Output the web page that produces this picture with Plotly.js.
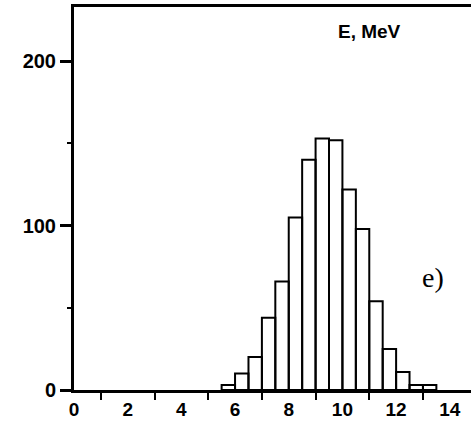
<!DOCTYPE html>
<html>
<head>
<meta charset="utf-8">
<script src="https://cdn.plot.ly/plotly-3.0.1.min.js"></script>
<style>html,body{margin:0;padding:0;background:#fff;}#chart{width:471px;height:424px;}</style>
</head>
<body>
<div id="chart"></div>
<script>
// Bin centres (MeV), bin width 0.5 MeV
const binCenters = [5.75, 6.25, 6.75, 7.25, 7.75, 8.25, 8.75, 9.25, 9.75, 10.25, 10.75, 11.25, 11.75, 12.25, 12.75, 13.25];
const counts = [3, 10, 20, 44, 66, 105, 140, 153, 152, 122, 98, 54, 25, 11, 3, 3];
const xTickVals = [0, 2, 4, 6, 8, 10, 12, 14];
const xTickText = ['0', '2', '4', '6', '8', '10', '12', '14'];
const yTickVals = [0, 100, 200];
const yTickText = ['0', '100', '200'];
const quantityLabel = 'E, MeV';
const panelLabel = 'e)';

const trace = {
  type: 'bar',
  x: binCenters,
  y: counts,
  width: 0.5,
  marker: {color: 'rgba(255,255,255,0)', line: {color: '#000', width: 2}},
  hoverinfo: 'skip'
};

const sans = 'Liberation Sans, Arial, sans-serif';
const layout = {
  width: 471, height: 424,
  margin: {l: 74, r: 0, t: 7, b: 34},
  paper_bgcolor: '#fff', plot_bgcolor: '#fff',
  showlegend: false,
  font: {family: sans, size: 19, color: '#000'},
  xaxis: {
    range: [0, 14.79],
    tickmode: 'array', tickvals: xTickVals, ticktext: xTickText,
    ticks: '', showgrid: false, zeroline: false,
    showline: true, linecolor: '#000', linewidth: 3, mirror: true,
    minor: {ticks: 'outside', tick0: 1, dtick: 2, ticklen: 7, tickwidth: 2, tickcolor: '#000', showgrid: false},
    tickfont: {family: sans, size: 19, color: '#000', weight: 'bold'}
  },
  yaxis: {
    range: [0, 233],
    tickmode: 'array', tickvals: yTickVals, ticktext: yTickText,
    ticks: 'outside', ticklen: 11, tickwidth: 3, tickcolor: '#000',
    minor: {ticks: 'outside', tick0: 50, dtick: 100, ticklen: 4, tickwidth: 2, tickcolor: '#000', showgrid: false},
    showgrid: false, zeroline: false,
    showline: true, linecolor: '#000', linewidth: 3,
    tickfont: {family: sans, size: 20, color: '#000', weight: 'bold'}
  },
  annotations: [
    {text: quantityLabel, xref: 'paper', yref: 'paper', x: 0.745, y: 0.937, xanchor: 'center', yanchor: 'middle', showarrow: false, font: {size: 19, color: '#000', family: sans, weight: 'bold'}},
    {text: panelLabel, xref: 'paper', yref: 'paper', x: 0.905, y: 0.293, xanchor: 'center', yanchor: 'middle', showarrow: false, font: {size: 28, color: '#000', family: 'Liberation Serif, Times New Roman, serif', weight: 'normal'}}
  ]
};

Plotly.newPlot('chart', [trace], layout, {displayModeBar: false, staticPlot: true});
</script>
</body>
</html>
